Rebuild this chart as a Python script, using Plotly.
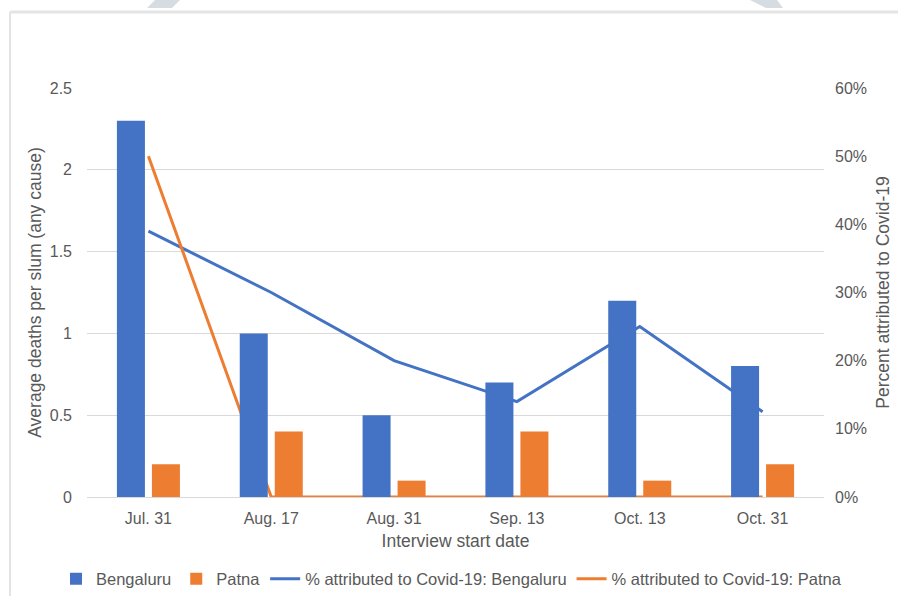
import plotly.graph_objects as go

# ---------------- data ----------------
dates = ["Jul. 31", "Aug. 17", "Aug. 31", "Sep. 13", "Oct. 13", "Oct. 31"]
beng_deaths = [2.3, 1.0, 0.5, 0.7, 1.2, 0.8]
patna_deaths = [0.2, 0.4, 0.1, 0.4, 0.1, 0.2]
beng_pct = [0.39, 0.30, 0.20, 0.14, 0.25, 0.125]
patna_pct = [0.50, 0.0, 0.0, 0.0, 0.0, 0.0]

BLUE = "#4472C4"
ORANGE = "#ED7D31"
TXT = "#595959"
FONT = "Liberation Sans, Arial, sans-serif"
TICK_SIZE = 16
TITLE_SIZE = 17.5
LEG_SIZE = 16.5

W, H = 898, 596
L, R, T, B = 87, 74, 88, 99
PW, PH = W - L - R, H - T - B


def px(x):
    return (x - L) / PW


def py(y):
    return (H - B - y) / PH


fig = go.Figure()

fig.add_trace(go.Bar(x=dates, y=beng_deaths, name="Bengaluru",
                     marker=dict(color=BLUE, line=dict(width=0)), yaxis="y2"))
fig.add_trace(go.Bar(x=dates, y=patna_deaths, name="Patna",
                     marker=dict(color=ORANGE, line=dict(width=0)), yaxis="y2"))
fig.add_trace(go.Scatter(x=dates, y=beng_pct, mode="lines",
                         name="% attributed to Covid-19: Bengaluru",
                         line=dict(color=BLUE, width=3), yaxis="y"))
fig.add_trace(go.Scatter(x=dates, y=patna_pct, mode="lines",
                         name="% attributed to Covid-19: Patna",
                         line=dict(color=ORANGE, width=3), yaxis="y"))

shapes = [
    dict(type="line", xref="paper", yref="paper", x0=px(10), x1=px(898),
         y0=py(12), y1=py(12), line=dict(color="#e4e4e4", width=3)),
    dict(type="line", xref="paper", yref="paper", x0=px(10), x1=px(10),
         y0=py(12), y1=py(596), line=dict(color="#e4e4e4", width=2)),
    dict(type="path", xref="paper", yref="paper",
         path=f"M {px(147)} {py(8)} L {px(172)} {py(8)} L {px(180)} {py(0)} L {px(155)} {py(0)} Z",
         fillcolor="#d6dde2", line=dict(width=0)),
    dict(type="path", xref="paper", yref="paper",
         path=f"M {px(750)} {py(0)} L {px(777)} {py(0)} L {px(783)} {py(8)} L {px(766)} {py(8)} Z",
         fillcolor="#d6dde2", line=dict(width=0)),
]

fig.update_layout(
    width=W, height=H,
    margin=dict(l=L, r=R, t=T, b=B, autoexpand=False),
    paper_bgcolor="white", plot_bgcolor="white",
    font=dict(family=FONT, size=TICK_SIZE, color=TXT),
    barmode="group", bargap=0.43, bargroupgap=0.2,
    showlegend=True,
    legend=dict(orientation="h", x=px(56), xanchor="left",
                y=py(579), yanchor="middle",
                font=dict(family=FONT, size=LEG_SIZE, color=TXT),
                itemwidth=30, tracegroupgap=0, bgcolor="rgba(0,0,0,0)"),
    xaxis=dict(type="category", showgrid=False, showline=False, zeroline=False,
               ticks="", ticklabelstandoff=10,
               tickfont=dict(size=TICK_SIZE),
               title=dict(text="Interview start date", standoff=8,
                          font=dict(family=FONT, size=TITLE_SIZE, color=TXT))),
    yaxis=dict(side="right", range=[0, 0.6], dtick=0.1, tickformat=".0%",
               showgrid=False, zeroline=False, showline=False, ticks="",
               ticklabelstandoff=10, tickfont=dict(size=TICK_SIZE),
               title=dict(text="Percent attributed to Covid-19", standoff=10,
                          font=dict(family=FONT, size=TITLE_SIZE, color=TXT))),
    yaxis2=dict(side="left", overlaying="y", range=[0, 2.5], dtick=0.5,
                showgrid=True, gridcolor="#d9d9d9", gridwidth=1,
                zeroline=True, zerolinecolor="#d9d9d9", zerolinewidth=1,
                showline=False, ticks="", ticklabelstandoff=14,
                tickfont=dict(size=TICK_SIZE),
                title=dict(text="Average deaths per slum (any cause)", standoff=3,
                           font=dict(family=FONT, size=TITLE_SIZE, color=TXT))),
    shapes=shapes,
)

fig.write_html("out.html")
